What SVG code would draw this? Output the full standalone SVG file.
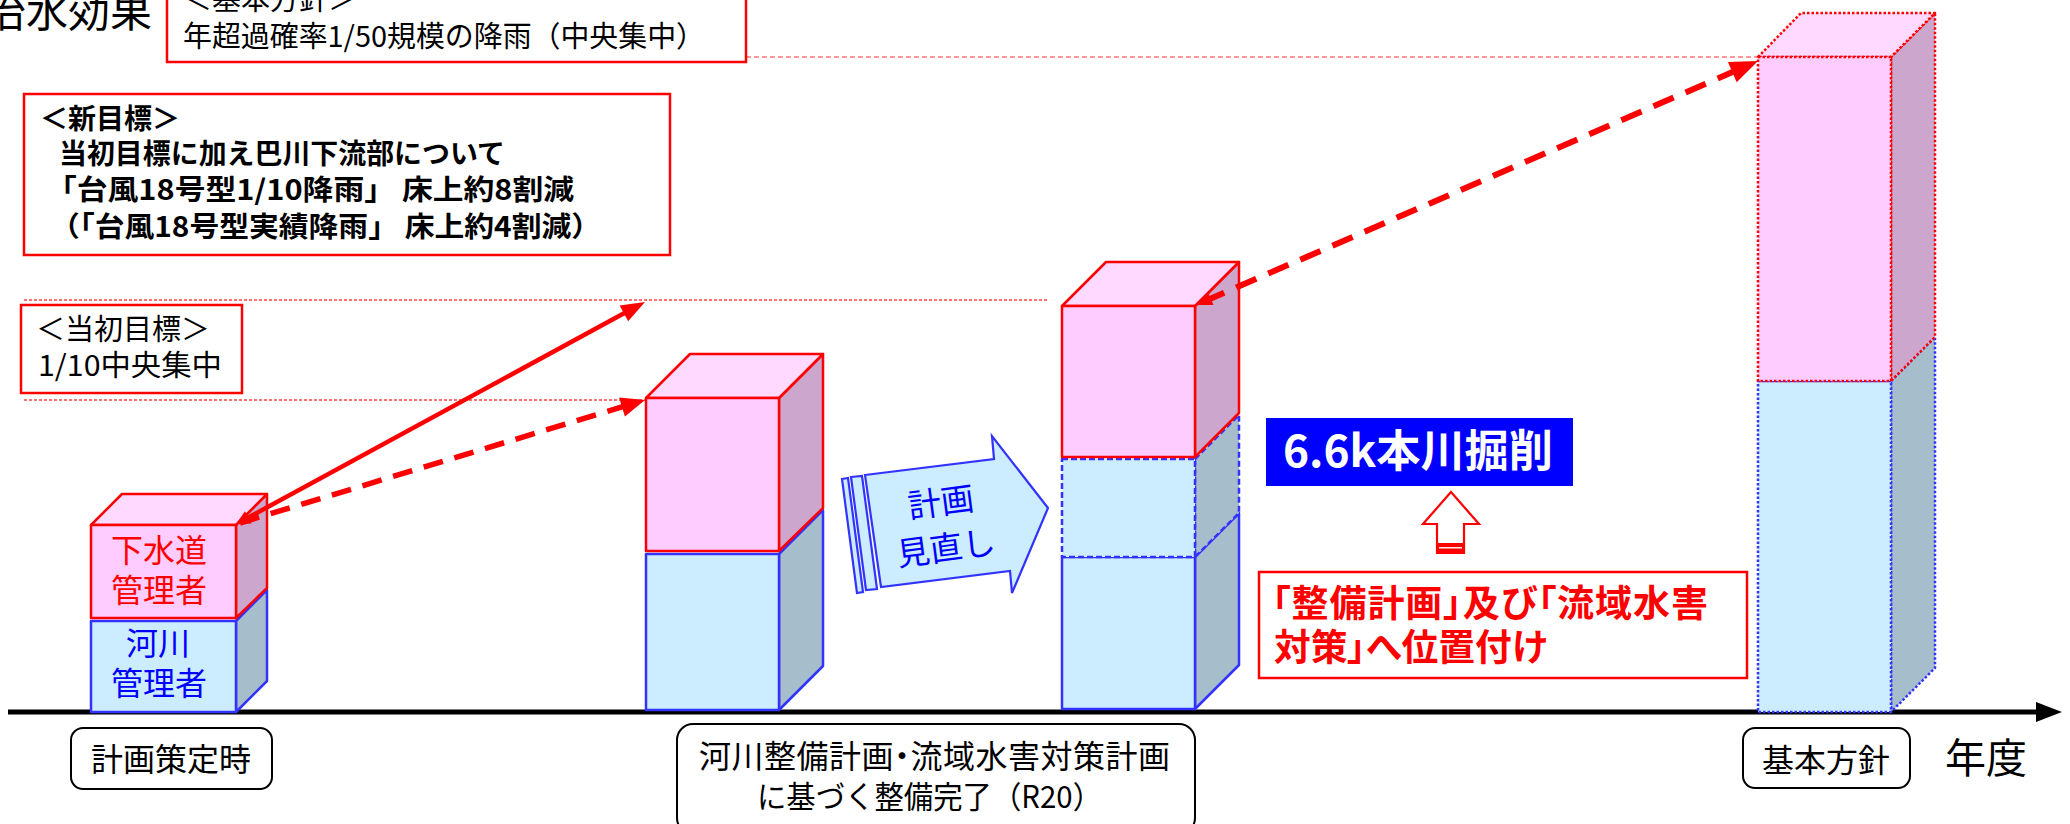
<svg xmlns="http://www.w3.org/2000/svg" width="2070" height="824" viewBox="0 0 2070 824">
<style>
text{font-family:"Noto Sans CJK JP","Noto Sans",sans-serif;}
.k{fill:#000;}
.b{font-weight:bold;}
.palt{font-feature-settings:"palt";}
.pf{fill:#FFCCFF;stroke:#FF0000;stroke-width:2.5;stroke-linejoin:round;}
.pt{fill:#FFD9FF;stroke:#FF0000;stroke-width:2.5;stroke-linejoin:round;}
.ps{fill:#CCA6CC;stroke:#FF0000;stroke-width:2.5;stroke-linejoin:round;}
.bf{fill:#CCECFF;stroke:#3333FF;stroke-width:2.5;stroke-linejoin:round;}
.bs{fill:#A6BDCC;stroke:#3333FF;stroke-width:2.5;stroke-linejoin:round;}
.dash{stroke-dasharray:6 3;}
.dot{stroke-dasharray:2.5 2;}
.guide{stroke:#FF7070;stroke-width:2;stroke-dasharray:3 2;fill:none;}
.redbox{fill:#fff;stroke:#FF0000;stroke-width:2.5;}
.lbl{fill:#fff;stroke:#000;stroke-width:2;}
</style>

<!-- title (cut off) -->
<g id="title"><text x="-16" y="27" font-size="42" class="k">治水効果</text></g>

<!-- guide lines -->
<g id="guides">
<line x1="746" y1="57" x2="1758" y2="57" stroke="#FF3030" stroke-width="1.2" stroke-dasharray="5 3"/>
<line class="guide" x1="24" y1="300" x2="1048" y2="300"/>
<line class="guide" x1="24" y1="400" x2="646" y2="400"/>
</g>

<!-- axis -->
<g id="axis">
<line x1="8" y1="712" x2="2040" y2="712" stroke="#000" stroke-width="5"/>
<polygon points="2036,702 2062,712 2036,722" fill="#000"/>
<text x="1945" y="773" font-size="41" class="k">年度</text>
</g>

<!-- note boxes -->
<g id="note-kihon">
<rect class="redbox" x="167" y="-6" width="579" height="68" stroke-width="2"/>
<text x="183" y="10" font-size="29" class="k">＜基本方針＞</text>
<text x="183" y="47" font-size="29" class="k" textLength="522" lengthAdjust="spacingAndGlyphs">年超過確率1/50規模の降雨（中央集中）</text>
</g>

<g id="note-shin">
<rect class="redbox" x="24" y="94" width="646" height="161" stroke-width="3.5"/>
<text x="40" y="129" font-size="28" class="k b">＜新目標＞</text>
<text x="59" y="164" font-size="28" class="k b" textLength="446" lengthAdjust="spacingAndGlyphs">当初目標に加え巴川下流部について</text>
<text x="46" y="200" font-size="28" class="k b" textLength="528" lengthAdjust="spacingAndGlyphs">「台風18号型1/10降雨」 床上約8割減</text>
<text x="50" y="237" font-size="28" class="k b" textLength="551" lengthAdjust="spacingAndGlyphs">（「台風18号型実績降雨」 床上約4割減）</text>
</g>

<g id="note-tousho">
<rect class="redbox" x="21" y="305" width="221" height="88"/>
<text x="36" y="340" font-size="29" class="k">＜当初目標＞</text>
<text x="38" y="376" font-size="29" class="k" textLength="184" lengthAdjust="spacingAndGlyphs">1/10中央集中</text>
</g>

<!-- stack 1 -->
<g id="stack-1">
<polygon class="bs" points="236,621 267,590 267,681 236,712"/>
<rect class="bf" x="91" y="621" width="145" height="91"/>
<polygon class="ps" points="236,525 267,494 267,588 236,618"/>
<polygon class="pt" points="91,525 122,494 267,494 236,525"/>
<rect class="pf" x="91" y="525" width="145" height="93"/>
<text x="159" y="562" font-size="32" fill="#FF0000" text-anchor="middle">下水道</text>
<text x="159" y="602" font-size="32" fill="#FF0000" text-anchor="middle">管理者</text>
<text x="158" y="655" font-size="32" fill="#0000FF" text-anchor="middle">河川</text>
<text x="159" y="695" font-size="32" fill="#0000FF" text-anchor="middle">管理者</text>
</g>

<!-- stack 2 -->
<g id="stack-2">
<polygon class="bs" points="779,554 823,510 823,666 779,710"/>
<rect class="bf" x="646" y="554" width="133" height="156"/>
<polygon class="ps" points="779,398 823,354 823,508 779,551"/>
<polygon class="pt" points="646,398 690,354 823,354 779,398"/>
<rect class="pf" x="646" y="398" width="133" height="153"/>
</g>

<!-- stack 3 -->
<g id="stack-3">
<polygon class="bs" points="1195,557 1239,513 1239,665 1195,709"/>
<rect class="bf" x="1062" y="557" width="133" height="152"/>
<polygon class="bs dash" points="1195,459 1239,415 1239,513 1195,557"/>
<rect class="bf dash" x="1062" y="459" width="133" height="98"/>
<polygon class="ps" points="1195,306 1239,262 1239,413 1195,457"/>
<polygon class="pt" points="1062,306 1106,262 1239,262 1195,306"/>
<rect class="pf" x="1062" y="306" width="133" height="151"/>
</g>

<!-- stack 4 -->
<g id="stack-4">
<polygon class="bs dot" points="1891,381 1935,337 1935,668 1891,712"/>
<rect class="bf dot" x="1758" y="381" width="133" height="331"/>
<polygon class="ps dot" points="1891,57 1935,13 1935,337 1891,381"/>
<polygon class="pt dot" points="1758,57 1801,13 1935,13 1891,57"/>
<rect class="pf dot" x="1758" y="57" width="133" height="324"/>
</g>

<!-- review arrow -->
<g id="review-arrow" fill="#CCECFF" stroke="#3333FF" stroke-width="2.2" stroke-linejoin="miter">
<polygon points="842,479 848,478 863,592 857,593"/>
<polygon points="851,477 862,476 877,589 866,590"/>
<polygon points="865,475 994,459 992,436 1048,508 1012,593 1010,571 881,587"/>
<text x="941" y="514" font-size="33" fill="#0000FF" stroke="none" text-anchor="middle" transform="rotate(-7.5 941 502)">計画</text>
<text x="946" y="560" font-size="33" fill="#0000FF" stroke="none" text-anchor="middle" transform="rotate(-7.5 946 548)">見直し</text>
</g>

<!-- 6.6k label -->
<g id="label-66k">
<rect x="1266" y="418" width="307" height="68" fill="#0000FF"/>
<text x="1283" y="467" font-size="44" fill="#FFFFFF" class="b" textLength="270" lengthAdjust="spacingAndGlyphs">6.6k本川掘削</text>
</g>

<!-- up arrow -->
<g id="up-arrow">
<polygon points="1451,492 1479,524 1464,524 1464,553 1437,553 1437,524 1423,524" fill="#fff" stroke="#FF0000" stroke-width="2.2"/>
<rect x="1437" y="543" width="27" height="10" fill="#FF0000"/>
<line x1="1439" y1="547.8" x2="1462" y2="547.8" stroke="#fff" stroke-width="1.4"/>
</g>

<!-- positioning box -->
<g id="note-ichizuke">
<rect class="redbox" x="1259" y="572" width="488" height="106" stroke-width="3"/>
<text x="1272" y="617" font-size="37" fill="#FF0000" class="b palt" textLength="436" lengthAdjust="spacing">「整備計画」及び「流域水害</text>
<text x="1274" y="661" font-size="37" fill="#FF0000" class="b palt" textLength="273" lengthAdjust="spacingAndGlyphs">対策」へ位置付け</text>
</g>

<!-- time labels -->
<g id="label-start">
<rect class="lbl" x="71" y="728" width="201" height="61" rx="12"/>
<text x="171" y="771" font-size="32" class="k" text-anchor="middle">計画策定時</text>
</g>
<g id="label-r20">
<rect class="lbl" x="677" y="724" width="518" height="110" rx="16"/>
<text x="699" y="768" font-size="32" class="k palt" textLength="471" lengthAdjust="spacing">河川整備計画・流域水害対策計画</text>
<text x="757" y="808" font-size="31" class="k" textLength="345" lengthAdjust="spacingAndGlyphs">に基づく整備完了（R20）</text>
</g>
<g id="label-kihon">
<rect class="lbl" x="1743" y="728" width="167" height="60" rx="12"/>
<text x="1826" y="772" font-size="32" class="k" text-anchor="middle">基本方針</text>
</g>

<!-- connectors -->
<g id="connectors" fill="#FF0000">
<line x1="242" y1="521" x2="630" y2="310" stroke="#FF0000" stroke-width="4.5"/>
<polygon points="645,302 628.2,321.3 619.6,305.5"/>
<polygon points="236,524 251.6,523.5 245,511.2"/>
<line x1="240" y1="523" x2="626" y2="405.7" stroke="#FF0000" stroke-width="5.5" stroke-dasharray="20 12"/>
<polygon points="645,400 624.9,416.6 619.1,397.4"/>
<line x1="1204" y1="301.5" x2="1736" y2="70.5" stroke="#FF0000" stroke-width="6" stroke-dasharray="22 13"/>
<polygon points="1758,61 1736.7,82.2 1727.9,62"/>
<polygon points="1196,305 1213.5,305 1207.9,292.2"/>
</g>
</svg>
